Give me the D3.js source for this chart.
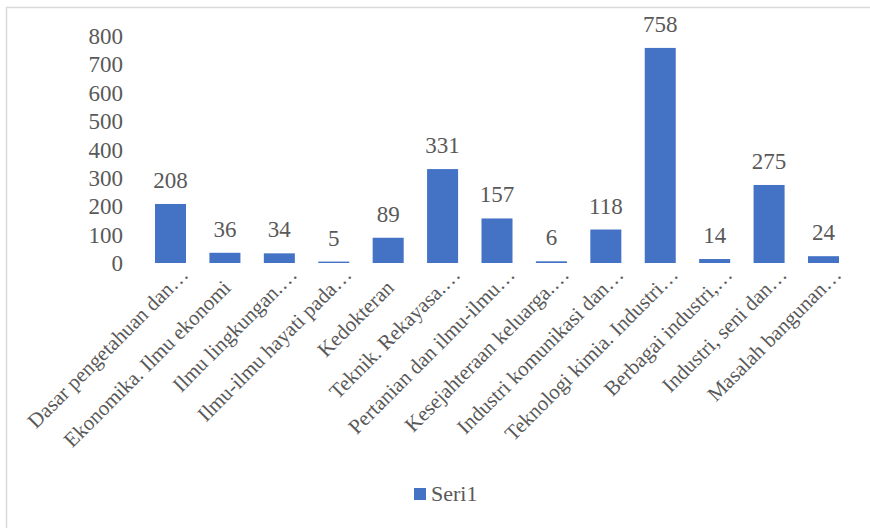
<!DOCTYPE html>
<html>
<head>
<meta charset="utf-8">
<script src="https://cdn.jsdelivr.net/npm/d3@7"></script>
<style>
  html, body { margin: 0; padding: 0; background: #ffffff; }
  svg { display: block; }
  text { font-family: "Liberation Serif", "Times New Roman", serif; fill: #595959; }
</style>
</head>
<body>
<svg id="chart" width="870" height="528"></svg>
<script>
const categories = [
  "Dasar pengetahuan dan…",
  "Ekonomika. Ilmu ekonomi",
  "Ilmu lingkungan.…",
  "Ilmu-ilmu hayati pada…",
  "Kedokteran",
  "Teknik. Rekayasa.…",
  "Pertanian dan ilmu-ilmu…",
  "Kesejahteraan keluarga.…",
  "Industri komunikasi dan…",
  "Teknologi kimia. Industri…",
  "Berbagai industri,…",
  "Industri, seni dan…",
  "Masalah bangunan…"
];
const values = [208, 36, 34, 5, 89, 331, 157, 6, 118, 758, 14, 275, 24];
const yTicks = [0, 100, 200, 300, 400, 500, 600, 700, 800];
const seriesName = "Seri1";

const svg = d3.select("#chart");
const barColor = "#4472C4";

// chart border
svg.append("rect")
  .attr("x", 6.5).attr("y", 7.5)
  .attr("width", 900).attr("height", 600)
  .attr("fill", "none").attr("stroke", "#d9d9d9").attr("stroke-width", 1.5);

const y = d3.scaleLinear().domain([0, 800]).range([263, 36]);
const x = d3.scaleBand().domain(categories).range([143.3, 850.7])
  .paddingInner(0.43).paddingOuter(0.215);

// y axis labels
const yAxis = svg.append("g").attr("transform", "translate(123,0)")
  .call(d3.axisLeft(y).tickValues(yTicks).tickSize(0).tickPadding(0).tickFormat(d3.format("d")));
yAxis.select(".domain").remove();
yAxis.selectAll("text")
  .style("font-family", '"Liberation Serif", "Times New Roman", serif')
  .style("font-size", "23px").attr("fill", "#595959").attr("dy", "0.33em");

// bars
svg.append("g").selectAll("rect").data(values).join("rect")
  .attr("x", (d, i) => x(categories[i]))
  .attr("y", d => y(d))
  .attr("width", x.bandwidth())
  .attr("height", d => y(0) - y(d))
  .attr("fill", barColor);

// data labels
svg.append("g").selectAll("text").data(values).join("text")
  .attr("x", (d, i) => x(categories[i]) + x.bandwidth() / 2)
  .attr("y", d => y(d) - 16)
  .attr("text-anchor", "middle")
  .style("font-size", "23px")
  .text(d => d);

// category labels (rotated -45)
svg.append("g").selectAll("text").data(categories).join("text")
  .attr("transform", d => {
    const cx = x(d) + x.bandwidth() / 2;
    const trunc = d.endsWith("…");
    const px = cx + (trunc ? 19 : 7);
    const py = trunc ? 276 : 289;
    return `translate(${px},${py}) rotate(-45)`;
  })
  .attr("text-anchor", "end")
  .style("font-size", "21px")
  .text(d => d);

// legend
const lg = svg.append("g");
lg.append("rect").attr("x", 414).attr("y", 488).attr("width", 12).attr("height", 12).attr("fill", barColor);
lg.append("text").attr("x", 431).attr("y", 500.5).style("font-size", "22px").text(seriesName);
</script>
</body>
</html>
